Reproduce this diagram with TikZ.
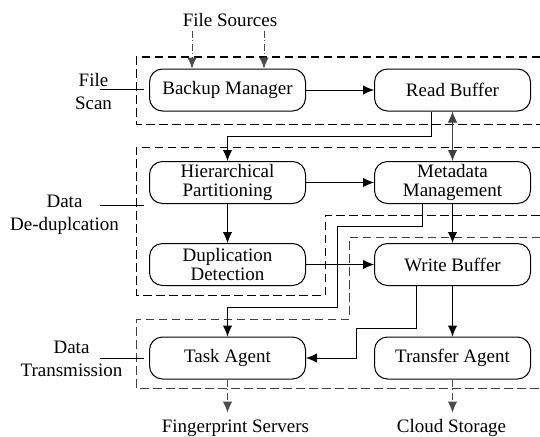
\documentclass[tikz,border=0pt]{standalone}
\usepackage{fontspec}
\setmainfont{Liberation Serif}
\usetikzlibrary{arrows.meta}

\tikzset{
  >={Latex[length=11pt,width=9.5pt]},
  block/.style={draw=black, line width=1pt, rounded corners=13pt, minimum width=156pt, minimum height=42pt, align=center, inner sep=2pt, font=\fontsize{19}{18.5}\selectfont},
  stagetext/.style={align=center, font=\fontsize{19}{23}\selectfont},
  endtext/.style={font=\fontsize{19}{23}\selectfont},
  stagebox/.style={line width=1pt, dash pattern=on 8.5pt off 4.5pt},
  feed/.style={->, black!70, line width=1pt, dash pattern=on 7pt off 2.5pt on 1pt off 2.5pt},
  flow/.style={->, line width=1pt}
}

\begin{document}
\begin{tikzpicture}[x=1pt,y=-1pt]
        \useasboundingbox (0,0) rectangle (540,436);

        \draw[stagebox] (540,57) -- (136,57) -- (136,124) -- (540,124);
        \draw[stagebox] (540,147) -- (136,147) -- (136,295) -- (325,295) -- (325,215) -- (540,215);
        \draw[stagebox, black!75] (540,237) -- (349,237) -- (349,319) -- (136,319) -- (136,388) -- (540,388);

        \node[block] (backup) at (227.5,90) {Backup Manager};
        \node[block] (readbuf) at (452.5,90) {Read Buffer};
        \node[block] (partition) at (227.5,182.5) {Hierarchical\\Partitioning};
        \node[block] (metadata) at (452.5,182.5) {Metadata\\Management};
        \node[block] (detect) at (227.5,264.5) {Duplication\\Detection};
        \node[block] (writebuf) at (452.5,264.5) {Write Buffer};
        \node[block] (task) at (227.5,358) {Task Agent};
        \node[block] (transfer) at (452.5,358) {Transfer Agent};

        \node[endtext] (sources) at (230,20.5) {File Sources};
        \node[endtext] (fpservers) at (235.5,428) {Fingerprint Servers};
        \node[endtext] (cloud) at (451.5,428) {Cloud Storage};

        \node[stagetext] (scanlbl) at (93.5,91.5) {File\\Scan};
        \node[stagetext] (deduplbl) at (64.5,214.5) {Data\\De-duplcation};
        \node[stagetext] (translbl) at (71.5,358.7) {Data\\Transmission};

        \coordinate (scanend) at (144,89.3);
        \coordinate (dedupend) at (144,205.7);
        \coordinate (transend) at (144,358.3);
        \draw[line width=1pt] (scanend) -- ++(-44,0);
        \draw[line width=1pt] (dedupend) -- ++(-44,0);
        \draw[line width=1pt] (transend) -- ++(-44,0);

        \coordinate (inleft) at ([xshift=-35.5pt]backup.north);
        \coordinate (inright) at ([xshift=36.5pt]backup.north);
        \draw[feed] (inleft |- sources.south) -- (inleft);
        \draw[feed] (inright |- sources.south) -- (inright);

        \draw[flow] (backup) -- (readbuf);
        \draw[flow] ([xshift=-21.5pt]readbuf.south) -- ++(0,25) -| (partition.north);
        \draw[<->, black!75, line width=1pt] (readbuf) -- (metadata);
        \draw[flow] (partition) -- (metadata);
        \draw[flow] (partition) -- (detect);
        \draw[flow] (detect) -- (writebuf);
        \draw[flow] (metadata) -- (writebuf);
        \draw[flow] ([xshift=-30.5pt]metadata.south) -- ++(0,22.5) -- ++(-85,0) -- ++(0,81) -| (task.north);
        \draw[flow] ([xshift=-36.5pt]writebuf.south) -- ++(0,42.5) -- ++(-60,0) |- (task.east);
        \draw[flow] (writebuf) -- (transfer);

        \draw[feed] (task.south) -- ++(0,33);
        \draw[feed] (transfer.south) -- ++(0,33);
    \end{tikzpicture}
\end{document}
